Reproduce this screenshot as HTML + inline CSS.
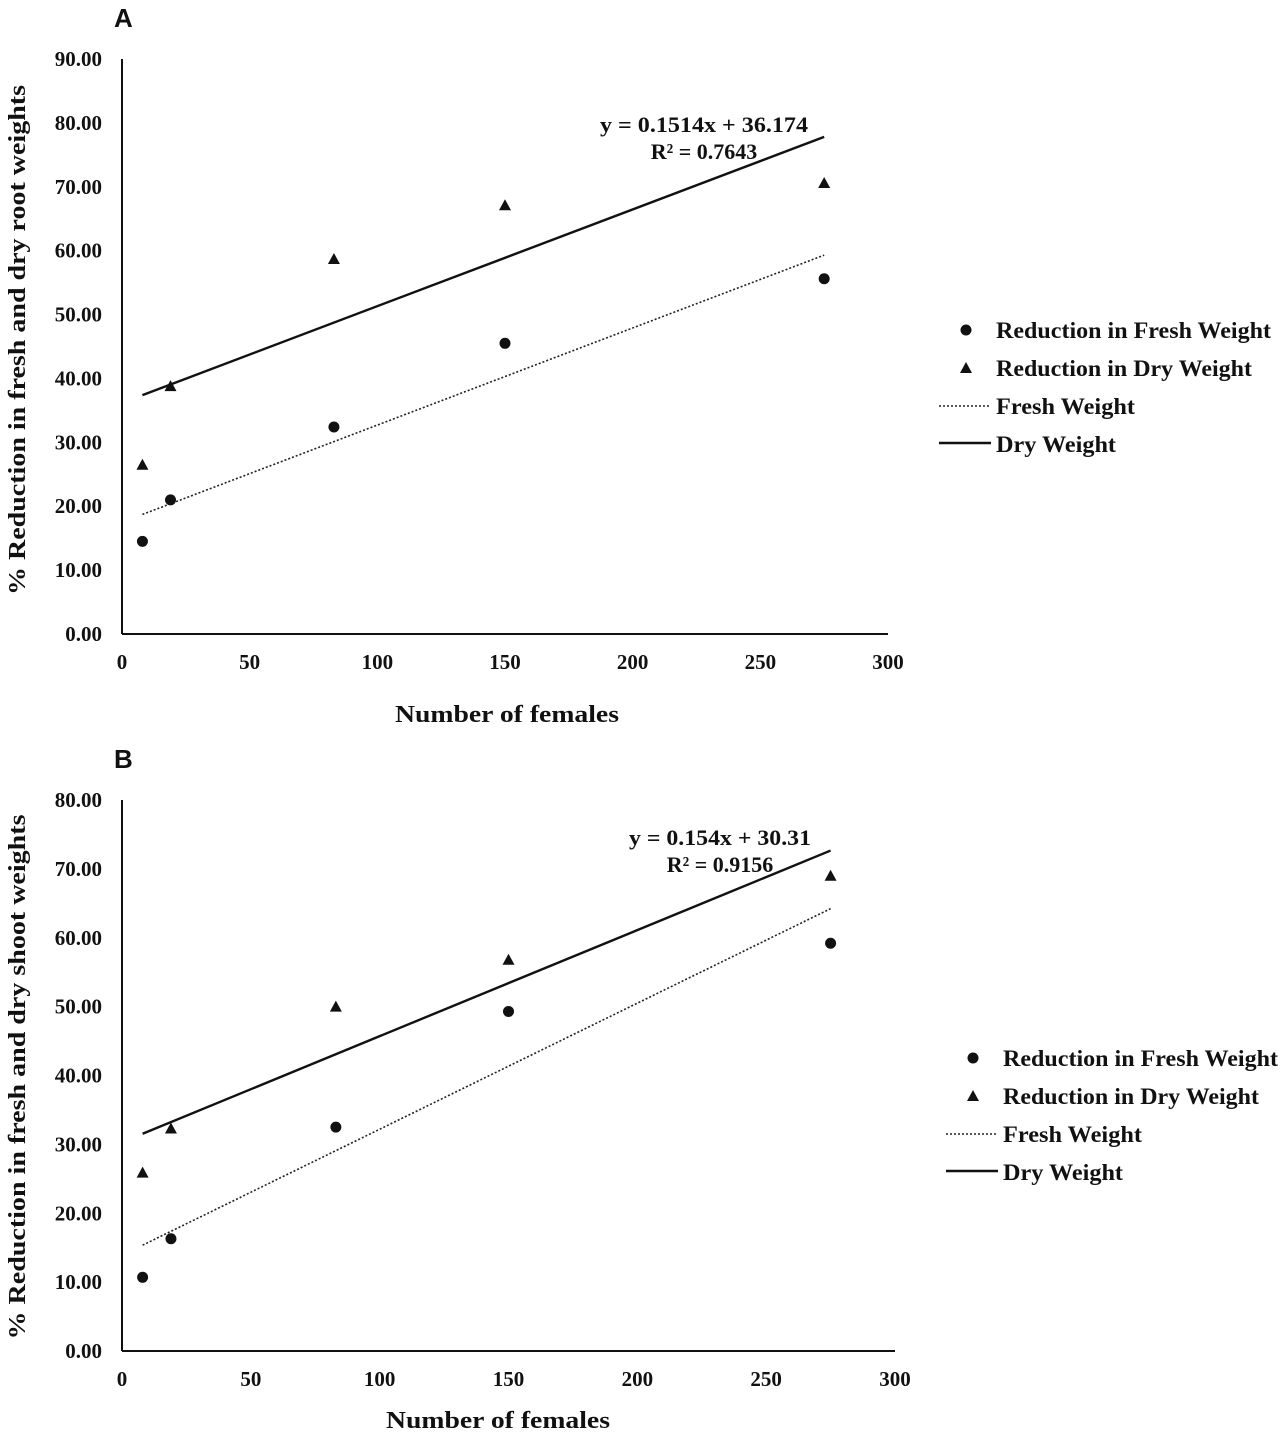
<!DOCTYPE html>
<html><head><meta charset="utf-8"><style>
body{margin:0;background:#fff}
svg text{font-family:"Liberation Serif",serif;font-weight:bold;fill:#111}
</style></head><body>
<svg id="svg" width="1280" height="1430" xmlns="http://www.w3.org/2000/svg"></svg>
<script>
const xCats = [8, 19, 83, 150, 275];
const freshA = [14.5, 21.0, 32.4, 45.5, 55.6];
const dryA = [26.5, 38.8, 58.7, 67.1, 70.6];
const freshB = [10.7, 16.3, 32.5, 49.3, 59.2];
const dryB = [25.9, 32.3, 50.0, 56.8, 69.0];
const trendFreshA = [0.152, 17.5];
const trendDryA = [0.1514, 36.174];
const trendFreshB = [0.183, 13.9];
const trendDryB = [0.154, 30.31];
const xTicks = [0, 50, 100, 150, 200, 250, 300];
const yTicksA = [0, 10, 20, 30, 40, 50, 60, 70, 80, 90];
const yTicksB = [0, 10, 20, 30, 40, 50, 60, 70, 80];
const eqA = ["y = 0.1514x + 36.174", "R² = 0.7643"];
const eqB = ["y = 0.154x + 30.31", "R² = 0.9156"];

const NS = "http://www.w3.org/2000/svg";
const svg = document.getElementById('svg');
function mk(tag, attrs, parent, txt) {
  const e = document.createElementNS(NS, tag);
  for (const k in attrs) e.setAttribute(k, attrs[k]);
  if (txt !== undefined) e.textContent = txt;
  (parent || svg).appendChild(e);
  return e;
}
function panel(cfg) {
  const g = mk('g', {});
  
  
  const sx = v => cfg.x0 + (v - 0) / 300 * (cfg.x1 - cfg.x0);
  const sy = v => cfg.y0 - v / cfg.ymax * (cfg.y0 - cfg.y1);
  const lbl = mk('text', {x: cfg.x0 - 8, y: cfg.y1 - 32, 'font-size': 26, style: 'font-family:"Liberation Sans",sans-serif'}, g, cfg.letter);
  
  
  const ya = mk('line', {x1: cfg.x0, y1: cfg.y1, x2: cfg.x0, y2: cfg.y0, stroke: '#111', 'stroke-width': 2}, g);
  
  
  const xa = mk('line', {x1: cfg.x0, y1: cfg.y0, x2: cfg.x1, y2: cfg.y0, stroke: '#111', 'stroke-width': 2}, g);
  
  
  cfg.yTicks.forEach(t => {
    const e = mk('text', {x: cfg.x0 - 20, y: sy(t) + 7, 'font-size': 21, 'text-anchor': 'end'}, g, t.toFixed(2));
    
    
  });
  xTicks.forEach(t => {
    const e = mk('text', {x: sx(t), y: cfg.y0 + 35, 'font-size': 21, 'text-anchor': 'middle'}, g, String(t));
    
    
  });
  const xt = mk('text', {x: cfg.xtX, y: cfg.y0 + cfg.xtDy, 'font-size': 24, 'text-anchor': 'middle', textLength: 224, lengthAdjust: 'spacingAndGlyphs'}, g, 'Number of females');
  
  
  const yt = mk('text', {x: 0, y: 0, 'font-size': 24, 'text-anchor': 'middle', transform: `translate(25,${cfg.ytC}) rotate(-90)`, textLength: cfg.ytLen, lengthAdjust: 'spacingAndGlyphs'}, g, cfg.ytitle);
  
  
  const xa0 = xCats[0], xa1 = xCats[xCats.length - 1];
  const tf = mk('line', {x1: sx(xa0), y1: sy(cfg.tf[0] * xa0 + cfg.tf[1]), x2: sx(xa1), y2: sy(cfg.tf[0] * xa1 + cfg.tf[1]), stroke: '#222', 'stroke-width': 1.6, 'stroke-dasharray': '2 2'}, g);
  
  
  const td = mk('line', {x1: sx(xa0), y1: sy(cfg.td[0] * xa0 + cfg.td[1]), x2: sx(xa1), y2: sy(cfg.td[0] * xa1 + cfg.td[1]), stroke: '#111', 'stroke-width': 2.4}, g);
  
  
  xCats.forEach((x, i) => {
    const c = mk('circle', {cx: sx(x), cy: sy(cfg.fresh[i]), r: 5.5, fill: '#111'}, g);
    
    
    const px = sx(x), py = sy(cfg.dry[i]);
    const t = mk('polygon', {points: `${px},${py - 6} ${px - 6},${py + 5} ${px + 6},${py + 5}`, fill: '#111'}, g);
    
    
  });
  const e1 = mk('text', {x: cfg.eqX, y: cfg.eqY, 'font-size': 22, 'text-anchor': 'middle', textLength: cfg.eqLen, lengthAdjust: 'spacingAndGlyphs'}, g, cfg.eq[0]);
  
  
  const e2 = mk('text', {x: cfg.eqX, y: cfg.eqY + 27, 'font-size': 22, 'text-anchor': 'middle'}, g, cfg.eq[1]);
  
  
  const lx = cfg.legX, ly = cfg.legY;
  const lg = mk('g', {}, g);
  
  
  const l1 = mk('circle', {cx: lx + 27, cy: ly, r: 5.5, fill: '#111'}, lg);
  
  
  const l2 = mk('polygon', {points: `${lx + 27},${ly + 32} ${lx + 21},${ly + 43} ${lx + 33},${ly + 43}`, fill: '#111'}, lg);
  
  
  const l3 = mk('line', {x1: lx, y1: ly + 76, x2: lx + 52, y2: ly + 76, stroke: '#222', 'stroke-width': 1.6, 'stroke-dasharray': '2 2'}, lg);
  
  
  const l4 = mk('line', {x1: lx, y1: ly + 113, x2: lx + 52, y2: ly + 113, stroke: '#111', 'stroke-width': 2.4}, lg);
  
  
  const labels = [['Reduction in Fresh Weight', 57, 275], ['Reduction in Dry Weight', 57, 256], ['Fresh Weight', 57, 139], ['Dry Weight', 57, 120]];
  labels.forEach((l, i) => {
    const e = mk('text', {x: lx + l[1], y: ly + 8 + i * 38, 'font-size': 23, textLength: l[2], lengthAdjust: 'spacingAndGlyphs'}, lg, l[0]);
    
    
  });
}
panel({name: 'chart-a', letter: 'A', x0: 122, x1: 888, y0: 634, y1: 59, ymax: 90, yTicks: yTicksA,
  fresh: freshA, dry: dryA, tf: trendFreshA, td: trendDryA, eq: eqA, eqX: 704, eqY: 132, eqLen: 208,
  legX: 939, legY: 330, xtX: 507, xtDy: 88, ytC: 340, ytLen: 510, ytitle: '% Reduction  in fresh and dry root  weights'});
panel({name: 'chart-b', letter: 'B', x0: 122, x1: 895, y0: 1351, y1: 800, ymax: 80, yTicks: yTicksB,
  fresh: freshB, dry: dryB, tf: trendFreshB, td: trendDryB, eq: eqB, eqX: 720, eqY: 845, eqLen: 182,
  legX: 946, legY: 1058, xtX: 498, xtDy: 77, ytC: 1077, ytLen: 525, ytitle: '% Reduction  in fresh and dry shoot weights'});
</script>
</body></html>
